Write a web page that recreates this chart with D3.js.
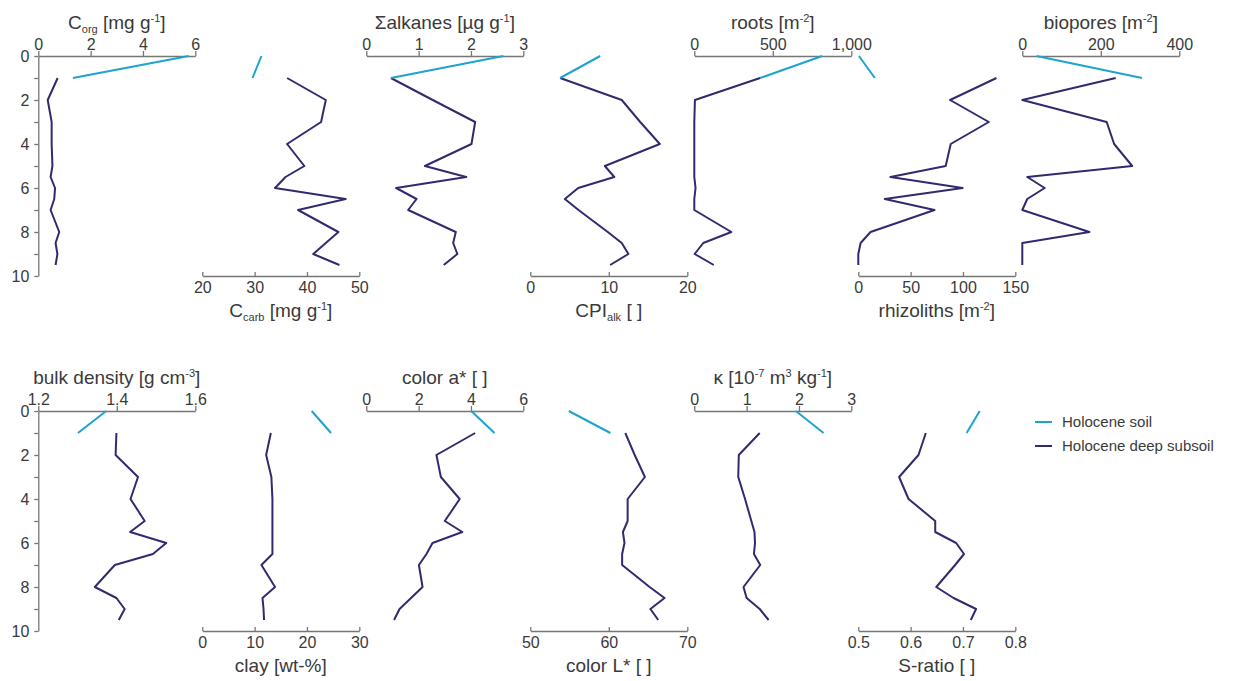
<!DOCTYPE html>
<html>
<head>
<meta charset="utf-8">
<script src="https://cdn.jsdelivr.net/npm/d3@7"></script>
<style>
  body { margin: 0; background: #fff; }
  svg { font-family: "Liberation Sans", Arial, sans-serif; }
</style>
</head>
<body>
<svg width="1233" height="681"></svg>
<script>
// depths [m] of the samples
const depthSoil = [0, 1];
const depthSub = [1, 2, 3, 4, 5, 5.5, 6, 6.5, 7, 8, 8.5, 9, 9.5];
const depthTicks = [0, 1, 2, 3, 4, 5, 6, 7, 8, 9, 10];

// top row
const corgSoil = [5.75, 1.32];
const corgSub = [0.74, 0.36, 0.51, 0.51, 0.54, 0.47, 0.64, 0.61, 0.47, 0.8, 0.66, 0.73, 0.66];
const ccarbSoil = [31.3, 29.6];
const ccarbSub = [36.2, 43.6, 42.7, 36.2, 39.5, 35.9, 33.9, 47.4, 38.3, 46.0, 43.6, 41.2, 46.2];
const alkSoil = [2.62, 0.47];
const alkSub = [0.47, 1.27, 2.08, 2.01, 1.12, 1.91, 0.57, 0.96, 0.8, 1.71, 1.66, 1.74, 1.48];
const cpiSoil = [8.9, 3.8];
const cpiSub = [3.8, 11.65, 14.0, 16.5, 9.5, 10.7, 6.1, 4.4, 6.14, 9.87, 11.65, 12.5, 10.17];
const rootsSoil = [815, 419];
const rootsSub = [419, 4, 0, 0, 0, 0, 8, 0, 0, 236, 57, 2, 124];
const rhizSoil = [0.6, 15.8];
const rhizSub = [132, 87.7, 124.7, 88.3, 83.5, 30.7, 99.7, 25.3, 72.8, 11.7, 2.2, 0, 0];
const bioSoil = [36, 305];
const bioSub = [238, 0, 215, 234, 280, 12.6, 57, 12.6, 0, 171, 0, 0, 0];

// bottom row
const bulkSoil = [1.373, 1.301];
const bulkSub = [1.399, 1.397, 1.454, 1.435, 1.471, 1.434, 1.526, 1.492, 1.395, 1.344, 1.399, 1.42, 1.405];
const claySoil = [20.9, 24.6];
const claySub = [13.1, 12.2, 13.2, 13.4, 13.4, 13.4, 13.4, 13.4, 11.3, 13.9, 11.5, 11.7, 11.8];
const aSoil = [4.01, 4.9];
const aSub = [4.16, 2.68, 2.85, 3.57, 3.0, 3.67, 2.53, 2.3, 2.01, 2.15, 1.71, 1.27, 1.06];
const lSoil = [54.9, 60.2];
const lSub = [62.1, 63.3, 64.6, 62.4, 62.4, 61.8, 62.0, 61.7, 61.7, 65.2, 67.1, 65.3, 66.3];
const kappaSoil = [1.94, 2.47];
const kappaSub = [1.25, 0.85, 0.84, 0.97, 1.09, 1.15, 1.16, 1.14, 1.26, 0.94, 1.0, 1.25, 1.42];
const sSoil = [0.732, 0.707];
const sSub = [0.629, 0.615, 0.578, 0.596, 0.647, 0.647, 0.687, 0.702, 0.685, 0.649, 0.682, 0.725, 0.715];

const legendLabels = ["Holocene soil", "Holocene deep subsoil"];

// title pieces: [text, "sub"|"sup"|undefined]
const panels = [
  {row: 0, col: 0, side: "top", ticks: [0, 2, 4, 6], soil: corgSoil, sub: corgSub,
   title: [["C"], ["org", "sub"], [" [mg g"], ["-1", "sup"], ["]"]]},
  {row: 0, col: 1, side: "bottom", ticks: [20, 30, 40, 50], soil: ccarbSoil, sub: ccarbSub,
   title: [["C"], ["carb", "sub"], [" [mg g"], ["-1", "sup"], ["]"]]},
  {row: 0, col: 2, side: "top", ticks: [0, 1, 2, 3], soil: alkSoil, sub: alkSub,
   title: [["\u03a3alkanes [\u00b5g g"], ["-1", "sup"], ["]"]]},
  {row: 0, col: 3, side: "bottom", ticks: [0, 10, 20], soil: cpiSoil, sub: cpiSub,
   title: [["CPI"], ["alk", "sub"], [" [ ]"]]},
  {row: 0, col: 4, side: "top", ticks: [0, 500, 1000], soil: rootsSoil, sub: rootsSub, fmt: d3.format(","),
   title: [["roots [m"], ["-2", "sup"], ["]"]]},
  {row: 0, col: 5, side: "bottom", ticks: [0, 50, 100, 150], soil: rhizSoil, sub: rhizSub,
   title: [["rhizoliths [m"], ["-2", "sup"], ["]"]]},
  {row: 0, col: 6, side: "top", ticks: [0, 200, 400], soil: bioSoil, sub: bioSub,
   title: [["biopores [m"], ["-2", "sup"], ["]"]]},
  {row: 1, col: 0, side: "top", ticks: [1.2, 1.4, 1.6], soil: bulkSoil, sub: bulkSub, fmt: d3.format(".1f"),
   title: [["bulk density [g cm"], ["-3", "sup"], ["]"]]},
  {row: 1, col: 1, side: "bottom", ticks: [0, 10, 20, 30], soil: claySoil, sub: claySub,
   title: [["clay [wt-%]"]]},
  {row: 1, col: 2, side: "top", ticks: [0, 2, 4, 6], soil: aSoil, sub: aSub,
   title: [["color a* [ ]"]]},
  {row: 1, col: 3, side: "bottom", ticks: [50, 60, 70], soil: lSoil, sub: lSub,
   title: [["color L* [ ]"]]},
  {row: 1, col: 4, side: "top", ticks: [0, 1, 2, 3], soil: kappaSoil, sub: kappaSub,
   title: [["\u03ba [10"], ["-7", "sup"], [" m"], ["3", "sup"], [" kg"], ["-1", "sup"], ["]"]]},
  {row: 1, col: 5, side: "bottom", ticks: [0.5, 0.6, 0.7, 0.8], soil: sSoil, sub: sSub, fmt: d3.format(".1f"),
   title: [["S-ratio [ ]"]]}
];

const soilColor = "#1ea3cf";
const subColor = "#2f2b6e";
const axisColor = "#767676";
const textColor = "#3a3a3a";

const svg = d3.select("svg");
const rowTop = [56, 411];
const plotH = 220;
const left0 = 38.3, step = 164, plotW = 157;

function styleAxis(g) {
  g.select(".domain").attr("stroke", axisColor).attr("stroke-width", 1.3);
  g.selectAll(".tick line").attr("stroke", axisColor).attr("stroke-width", 1.3);
  g.selectAll(".tick text").attr("fill", textColor).style("font-size", "16px");
}

function writeTitle(sel, parts) {
  let shift = 0;
  parts.forEach(function(p) {
    let target = p[1] === "sub" ? 4 : p[1] === "sup" ? -7 : 0;
    let ts = sel.append("tspan").text(p[0]).attr("dy", target - shift);
    if (p[1]) ts.style("font-size", "11px");
    shift = target;
  });
}

// depth axes
rowTop.forEach(function(t) {
  let y = d3.scaleLinear().domain([0, 10]).range([t, t + plotH]);
  let g = svg.append("g").attr("transform", "translate(" + left0 + ",0)")
    .call(d3.axisLeft(y).tickValues(depthTicks).tickSize(4).tickPadding(5).tickSizeOuter(0)
      .tickFormat(function(d) { return d % 2 === 0 ? d : ""; }));
  styleAxis(g);
  g.selectAll(".tick text").filter(function(d) { return d % 2 !== 0; }).remove();
});

panels.forEach(function(p) {
  let t = rowTop[p.row];
  let x0 = left0 + step * p.col;
  let x = d3.scaleLinear().domain(d3.extent(p.ticks)).range([x0, x0 + plotW]);
  let y = d3.scaleLinear().domain([0, 10]).range([t, t + plotH]);
  let fmt = p.fmt || d3.format("");

  let g;
  if (p.side === "top") {
    g = svg.append("g").attr("transform", "translate(0," + t + ")")
      .call(d3.axisTop(x).tickValues(p.ticks).tickFormat(fmt).tickSize(5).tickPadding(1).tickSizeOuter(0));
  } else {
    g = svg.append("g").attr("transform", "translate(0," + (t + plotH) + ")")
      .call(d3.axisBottom(x).tickValues(p.ticks).tickFormat(fmt).tickSize(-4).tickPadding(6).tickSizeOuter(0));
  }
  styleAxis(g);

  let title = svg.append("text")
    .attr("x", x0 + plotW / 2)
    .attr("y", p.side === "top" ? t - 27 : t + plotH + 41)
    .attr("text-anchor", "middle")
    .attr("fill", textColor)
    .style("font-size", "19px");
  writeTitle(title, p.title);

  let line = d3.line()
    .x(function(d) { return x(d[0]); })
    .y(function(d) { return y(d[1]); });

  svg.append("path")
    .datum(d3.zip(p.sub, depthSub))
    .attr("d", line)
    .attr("fill", "none")
    .attr("stroke", subColor)
    .attr("stroke-width", 2)
    .attr("stroke-linejoin", "round");

  svg.append("path")
    .datum(d3.zip(p.soil, depthSoil))
    .attr("d", line)
    .attr("fill", "none")
    .attr("stroke", soilColor)
    .attr("stroke-width", 2);
});

// legend
const legend = svg.append("g").attr("transform", "translate(1035,422)");
legendLabels.forEach(function(lbl, i) {
  let row = legend.append("g").attr("transform", "translate(0," + (i * 24) + ")");
  row.append("line").attr("x1", 0).attr("x2", 17).attr("y1", 0).attr("y2", 0)
    .attr("stroke", i === 0 ? soilColor : subColor).attr("stroke-width", 2);
  row.append("text").attr("x", 27).attr("y", 0).attr("dy", "0.35em")
    .attr("fill", textColor).style("font-size", "15px").text(lbl);
});
</script>
</body>
</html>
